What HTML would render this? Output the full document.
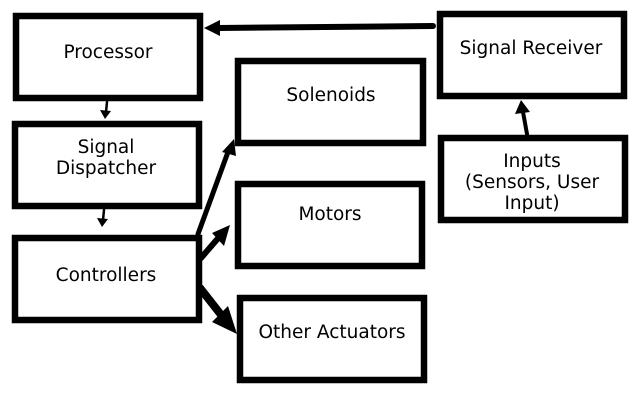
<!DOCTYPE html>
<html><head><style>html,body{margin:0;padding:0;background:#fff;}svg{display:block}</style></head>
<body>
<svg width="640" height="400" viewBox="0 0 640 400" xmlns="http://www.w3.org/2000/svg">
<g fill="#fff" stroke="#000" stroke-width="6.5">
<rect x="16" y="16" width="184" height="82"/>
<rect x="15" y="124" width="184" height="82"/>
<rect x="15" y="238" width="184" height="82"/>
<rect x="238" y="61" width="185" height="82"/>
<rect x="238" y="184" width="184" height="82"/>
<rect x="240" y="298" width="184" height="82"/>
<rect x="440" y="14" width="184" height="82"/>
<rect x="441" y="138" width="184" height="82"/>
</g>
<g stroke="#000" fill="none" stroke-linecap="round">
<line x1="433" y1="26" x2="218" y2="28" stroke-width="6"/>
<line x1="107" y1="102" x2="106" y2="112" stroke-width="2.5"/>
<line x1="104" y1="210" x2="103" y2="220" stroke-width="2.5"/>
<line x1="527" y1="134" x2="523" y2="112" stroke-width="4"/>
<line x1="198" y1="234" x2="228" y2="152" stroke-width="5"/>
<line x1="201" y1="258" x2="220" y2="236" stroke-width="6"/>
<line x1="200" y1="288" x2="222" y2="316" stroke-width="8"/>
</g>
<g fill="#000">
<polygon points="204,28 220,20 220,36"/>
<polygon points="105,119 100,110 111,111"/>
<polygon points="102,227 97,218 108,219"/>
<polygon points="521,100 515,114 530,112"/>
<polygon points="234,139 222,152 236,156"/>
<polygon points="230,225 212,233 224,246"/>
<polygon points="237,334 212,322 228,306"/>
</g>
<g font-family="'DejaVu Sans','Liberation Sans',sans-serif" font-size="18.5" text-anchor="middle" fill="#000">
<text x="108" y="58">Processor</text>
<text x="106" y="153">Signal</text>
<text x="106" y="174">Dispatcher</text>
<text x="106" y="281">Controllers</text>
<text x="331" y="101">Solenoids</text>
<text x="330" y="220">Motors</text>
<text x="332" y="338">Other Actuators</text>
<text x="531" y="54">Signal Receiver</text>
<text x="532" y="167">Inputs</text>
<text x="532" y="188">(Sensors, User</text>
<text x="532" y="209">Input)</text>
</g>
</svg>
</body></html>
